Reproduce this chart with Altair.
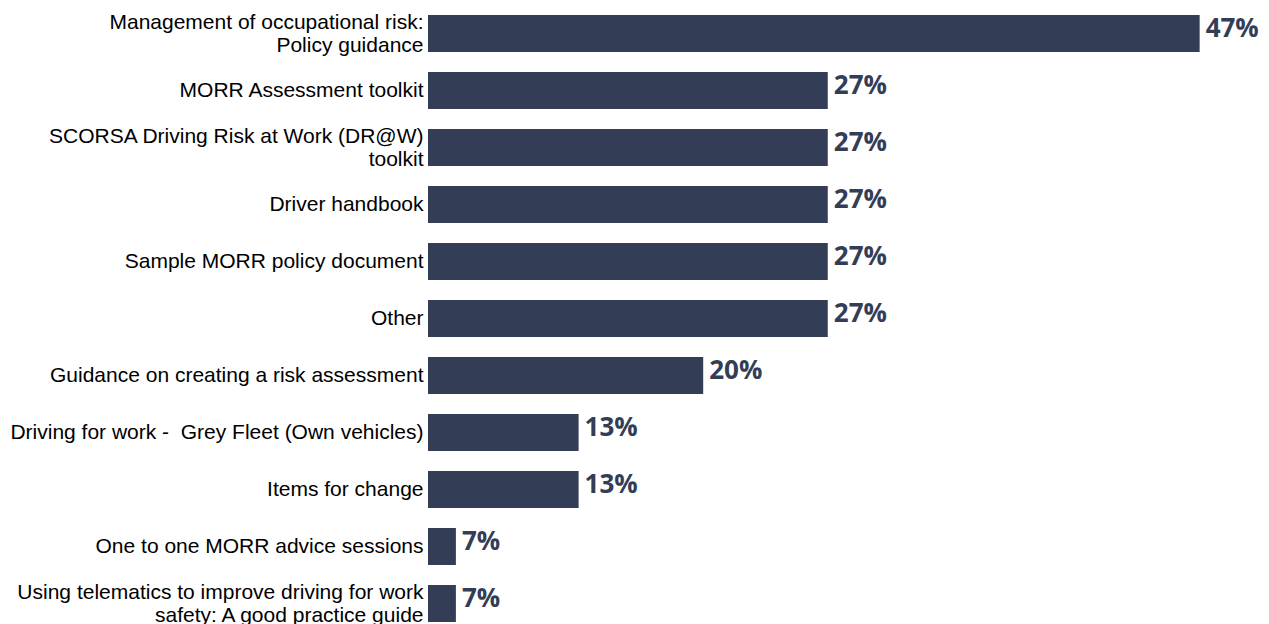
import altair as alt
import pandas as pd

NB = "\u00a0"
categories = [
    "Management of occupational risk:|Policy guidance",
    "MORR Assessment toolkit",
    "SCORSA Driving Risk at Work (DR@W)" + NB + "|toolkit",
    "Driver handbook",
    "Sample MORR policy document",
    "Other",
    "Guidance on creating a risk assessment",
    "Driving for work -" + NB + " Grey Fleet (Own vehicles)",
    "Items for change",
    "One to one MORR advice sessions",
    "Using telematics to improve driving for work" + NB + "|safety: A good practice guide",
]
values = [46.7, 26.7, 26.7, 26.7, 26.7, 26.7, 20.0, 13.3, 13.3, 6.7, 6.7]
value_labels = ["47%", "27%", "27%", "27%", "27%", "27%", "20%", "13%", "13%", "7%", "7%"]

df = pd.DataFrame({"cat": categories, "val": values, "lab": value_labels})

BAR = "#343d56"

y = alt.Y(
    "cat:N",
    sort=None,
    title=None,
    scale=alt.Scale(range=[0, 627], paddingInner=0.35, paddingOuter=0.175),
    axis=alt.Axis(
        labelExpr="split(datum.label, '|')",
        labelFont="Liberation Sans",
        labelFontSize=21,
        labelColor="#000000",
        labelLineHeight=23,
        labelPadding=5,
        labelLimit=0,
        labelOffset={"condition": {"test": "indexof(datum.label, '|') >= 0", "value": -11}, "value": 0},
        ticks=False,
        domain=False,
        grid=False,
    ),
)
x = alt.X(
    "val:Q",
    title=None,
    scale=alt.Scale(domain=[5.2, 50], zero=False, clamp=True, nice=False),
    axis=None,
)

bars = alt.Chart(df).mark_bar(color=BAR, clip=False).encode(x=x, y=y)
text = alt.Chart(df).mark_text(
    align="left",
    baseline="middle",
    dx=6,
    dy=-5,
    font="Open Sans",
    fontWeight="bold",
    fontSize=26,
    color=BAR,
).encode(x=x, y=y, text="lab:N")

chart = (
    (bars + text)
    .properties(
        width=833,
        height=615,
        padding={"left": 428, "top": 5, "right": 8, "bottom": 4},
        autosize=alt.AutoSizeParams(type="none"),
        background="#ffffff",
    )
    .configure_view(stroke=None)
)

chart.save("out.html", embed_options={"renderer": "svg", "actions": False})
